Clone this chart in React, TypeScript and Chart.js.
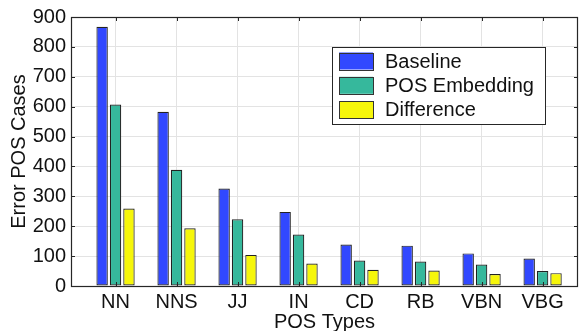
import React, { useEffect, useRef } from "react";
import { Chart, registerables } from "chart.js";
Chart.register(...registerables);

const categories = ["NN", "NNS", "JJ", "IN", "CD", "RB", "VBN", "VBG"];
const baseline = [867, 583, 326, 248, 139, 135, 109, 92];
const posEmbedding = [607, 389, 223, 172, 85, 82, 72, 50];
const difference = [259, 193, 104, 75, 54, 52, 40, 43];
const seriesNames = ["Baseline", "POS Embedding", "Difference"];
const yTickValues = [0, 100, 200, 300, 400, 500, 600, 700, 800, 900];

const FONT = "'Liberation Sans', Arial, Helvetica, sans-serif";
const INK = "#262626";

const boxPlugin = {
  id: "matlabBox",
  afterDatasetsDraw(chart: any) {
    const { ctx, chartArea } = chart;
    const { left, right, top, bottom } = chartArea;
    const xs = chart.scales.x;
    const ys = chart.scales.y;
    ctx.save();
    ctx.strokeStyle = INK;
    ctx.lineWidth = 1;
    ctx.beginPath();
    ys.ticks.forEach((t: any) => {
      const y = Math.round(ys.getPixelForValue(t.value)) + 0.5;
      ctx.moveTo(left, y);
      ctx.lineTo(left + 4, y);
      ctx.moveTo(right, y);
      ctx.lineTo(right - 4, y);
    });
    xs.ticks.forEach((t: any) => {
      const x = Math.round(xs.getPixelForValue(t.value)) + 0.5;
      ctx.moveTo(x, bottom);
      ctx.lineTo(x, bottom - 4);
      ctx.moveTo(x, top);
      ctx.lineTo(x, top + 4);
    });
    ctx.stroke();
    ctx.lineWidth = 1.2;
    ctx.strokeRect(Math.round(left) + 0.5, Math.round(top) + 0.5, Math.round(right - left) - 1, Math.round(bottom - top));
    // legend
    const lx = right - 246;
    const ly = top + 30;
    const lw = 213;
    const lh = 77;
    ctx.fillStyle = "#ffffff";
    ctx.fillRect(lx, ly, lw, lh);
    ctx.lineWidth = 1;
    ctx.strokeStyle = INK;
    ctx.strokeRect(Math.round(lx) + 0.5, Math.round(ly) + 0.5, lw, lh);
    ctx.font = `20px ${FONT}`;
    ctx.textBaseline = "middle";
    ctx.textAlign = "left";
    chart.data.datasets.forEach((ds: any, i: number) => {
      const cy = ly + 14 + i * 24.3;
      ctx.fillStyle = ds.backgroundColor;
      ctx.fillRect(lx + 7, cy - 8.5, 34, 17);
      ctx.strokeStyle = "#333333";
      ctx.strokeRect(Math.round(lx + 7) + 0.5, Math.round(cy - 8.5) + 0.5, 34, 17);
      ctx.fillStyle = "#111111";
      ctx.fillText(ds.label, lx + 53, cy + 1);
    });
    ctx.restore();
  },
};

export default function App() {
  const ref = useRef<HTMLCanvasElement | null>(null);
  useEffect(() => {
    if (!ref.current) return;
    const mk = (vals: number[]) => vals.map((v, i) => ({ x: i + 1, y: v }));
    const barStyle = { borderColor: "#222222", borderWidth: 1.2, borderSkipped: false };
    const chart = new Chart(ref.current, {
      type: "bar",
      data: {
        datasets: [
          { label: seriesNames[0], data: mk(baseline), backgroundColor: "#3148FF", ...barStyle },
          { label: seriesNames[1], data: mk(posEmbedding), backgroundColor: "#36B89C", ...barStyle },
          { label: seriesNames[2], data: mk(difference), backgroundColor: "#F6F60A", ...barStyle },
        ] as any,
      },
      options: {
        animation: false,
        responsive: false,
        maintainAspectRatio: false,
        layout: { padding: { top: 14, right: 1, left: 0, bottom: 0 } },
        datasets: { bar: { categoryPercentage: 0.66, barPercentage: 0.85 } } as any,
        plugins: { legend: { display: false }, tooltip: { enabled: false } },
        scales: {
          x: {
            type: "linear",
            offset: false,
            min: 0.27,
            max: 8.58,
            afterBuildTicks: (s: any) => {
              s.ticks = categories.map((_, i) => ({ value: i + 1 }));
            },
            afterFit: (s: any) => {
              s.height = 45;
            },
            grid: { color: "#e3e3e3", lineWidth: 1, drawTicks: false, offset: false },
            border: { display: false },
            ticks: {
              autoSkip: false,
              maxRotation: 0,
              padding: 4,
              color: "#111111",
              font: { family: FONT, size: 20 },
              callback: (v: any) => categories[Math.round(Number(v)) - 1] ?? "",
            },
            title: {
              display: true,
              text: "POS Types",
              color: "#111111",
              font: { family: FONT, size: 20, lineHeight: 0.9 },
              padding: { top: 0, bottom: 0 },
            },
          },
          y: {
            min: 0,
            max: 900,
            afterBuildTicks: (s: any) => {
              s.ticks = yTickValues.map((v) => ({ value: v }));
            },
            afterFit: (s: any) => {
              s.width = 71;
            },
            grid: { color: "#e3e3e3", lineWidth: 1, drawTicks: false },
            border: { display: false },
            ticks: {
              padding: 5,
              color: "#111111",
              font: { family: FONT, size: 20 },
            },
            title: {
              display: true,
              text: "Error POS Cases",
              color: "#111111",
              font: { family: FONT, size: 20 },
              padding: { top: 7, bottom: 0 },
            },
          },
        },
      } as any,
      plugins: [boxPlugin],
    });
    return () => chart.destroy();
  }, []);
  return (
    <div style={{ position: "fixed", left: 0, top: 0, width: 579, height: 331, background: "#fff" }}>
      <canvas ref={ref} width={579} height={331} style={{ width: 579, height: 331, display: "block" }} />
    </div>
  );
}
